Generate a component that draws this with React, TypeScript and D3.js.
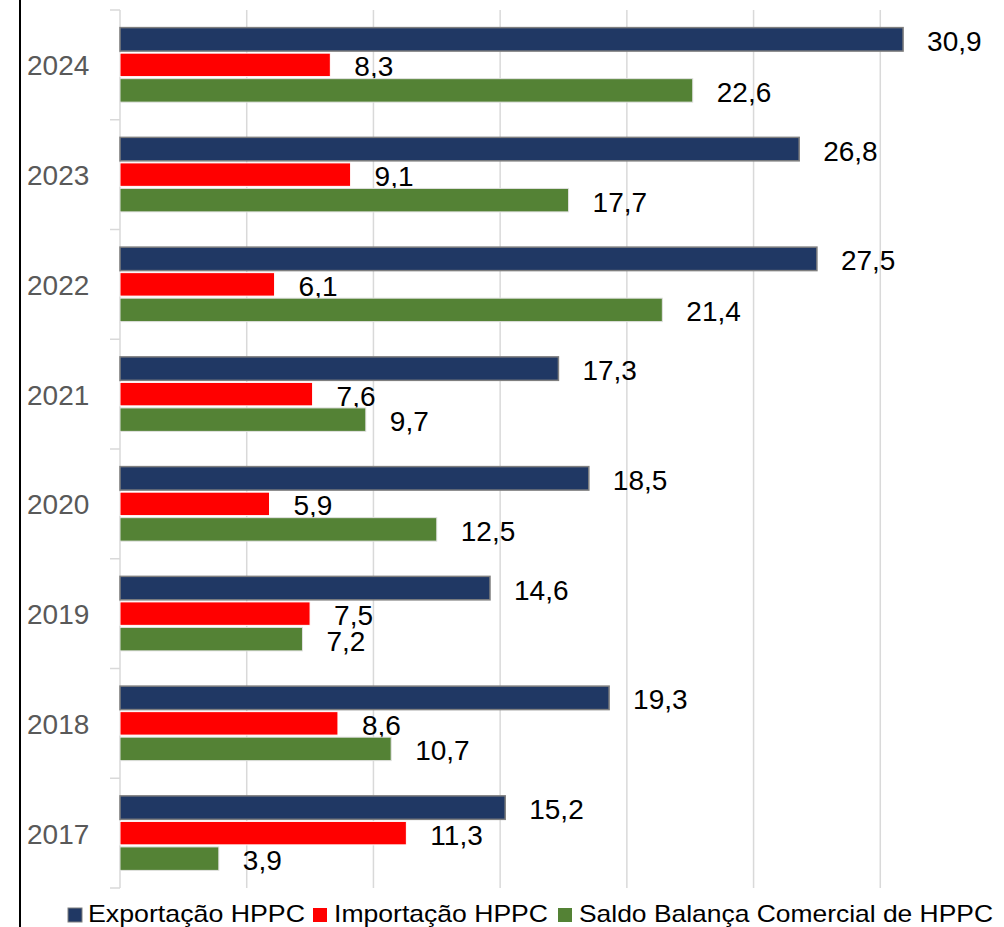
import React from "react";
import * as d3 from "d3";

const years = ["2024", "2023", "2022", "2021", "2020", "2019", "2018", "2017"];
const seriesNames = ["Exportação HPPC", "Importação HPPC", "Saldo Balança Comercial de HPPC"];
const exportacao = [30.9, 26.8, 27.5, 17.3, 18.5, 14.6, 19.3, 15.2];
const importacao = [8.3, 9.1, 6.1, 7.6, 5.9, 7.5, 8.6, 11.3];
const saldo = [22.6, 17.7, 21.4, 9.7, 12.5, 7.2, 10.7, 3.9];
const xTicks = [0, 5, 10, 15, 20, 25, 30];

const colors = ["#203864", "#ff0000", "#548235"];
const strokes = ["#7f7f7f", "#ffffff", "#e2e2e2"];
const legendWidths = [217, 214, 414];

const W = 1004;
const H = 927;

export default function App() {
  const values = [exportacao, importacao, saldo];
  const x = d3.scaleLinear().domain([0, 35]).range([120, 1007]);
  const y = d3.scaleBand().domain(years).range([10, 888]).padding(0);
  const inner = d3
    .scaleBand()
    .domain(seriesNames)
    .range([0, y.bandwidth()])
    .paddingInner(0.08)
    .paddingOuter(0.69);
  const fmt = (v: number) => v.toFixed(1).replace(".", ",");
  const boundaries = [...years.map((yr) => y(yr)!), 888];

  const legendItems = [
    { sq: 68, tx: 88 },
    { sq: 313, tx: 334 },
    { sq: 558, tx: 579 },
  ];

  return (
    <svg
      width={W}
      height={H}
      style={{ position: "absolute", left: 0, top: 0, background: "#fff" }}
    >
      <rect x={0} y={0} width={W} height={H} fill="#fff" />
      <line x1={20} x2={20} y1={0} y2={H} stroke="#000" strokeWidth={2} />
      {/* gridlines */}
      {xTicks.slice(1).map((t) => (
        <line key={t} x1={x(t)} x2={x(t)} y1={10} y2={888} stroke="#d9d9d9" strokeWidth={1.5} />
      ))}
      {/* category axis */}
      <line x1={x(0)} x2={x(0)} y1={10} y2={888} stroke="#d9d9d9" strokeWidth={1.5} />
      {boundaries.map((b, i) => (
        <line key={i} x1={110} x2={x(0)} y1={b} y2={b} stroke="#d9d9d9" strokeWidth={1.5} />
      ))}
      {years.map((yr) => (
        <text
          key={yr}
          x={27}
          y={y(yr)! + y.bandwidth() / 2}
          dy={1}
          dominantBaseline="central"
          fontFamily="Liberation Sans, Arial, sans-serif"
          fontSize={28}
          fill="#595959"
        >
          {yr}
        </text>
      ))}
      {/* bars */}
      {years.map((yr, i) =>
        seriesNames.map((s, j) => {
          const v = values[j][i];
          const by = y(yr)! + inner(s)!;
          return (
            <g key={yr + s}>
              <rect
                x={x(0)}
                y={by}
                width={x(v) - x(0)}
                height={inner.bandwidth()}
                fill={colors[j]}
                stroke={strokes[j]}
                strokeWidth={j === 0 ? 1.5 : 1}
              />
              <text
                x={x(v) + 24}
                y={by + inner.bandwidth() / 2}
                dy={2}
                dominantBaseline="central"
                fontFamily="Liberation Sans, Arial, sans-serif"
                fontSize={28}
                fill="#000"
              >
                {fmt(v)}
              </text>
            </g>
          );
        })
      )}
      {/* legend */}
      {seriesNames.map((s, j) => (
        <g key={s}>
          <rect
            x={legendItems[j].sq}
            y={908}
            width={14}
            height={14}
            fill={colors[j]}
            stroke={j === 0 ? "#7f7f7f" : "none"}
            strokeWidth={1}
          />
          <text
            x={legendItems[j].tx}
            y={922}
            fontFamily="Liberation Sans, Arial, sans-serif"
            fontSize={24}
            fill="#000"
            textLength={legendWidths[j]}
            lengthAdjust="spacingAndGlyphs"
          >
            {s}
          </text>
        </g>
      ))}
    </svg>
  );
}
